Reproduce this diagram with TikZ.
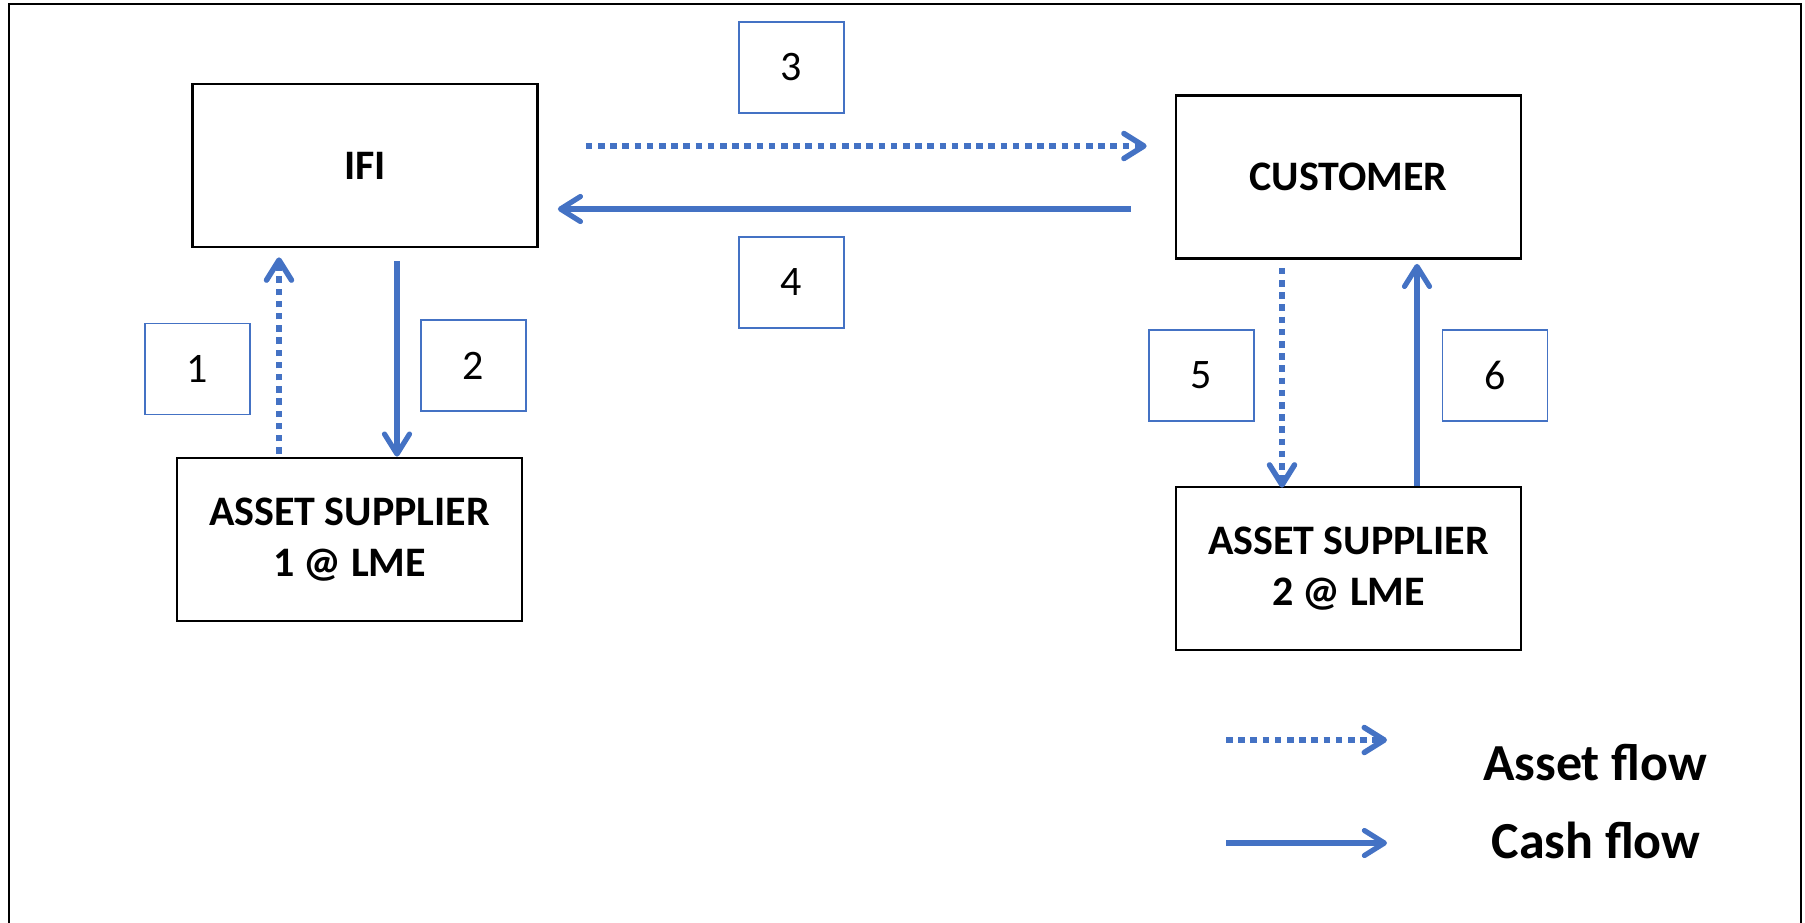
\documentclass[tikz,border=0pt]{standalone}
\usepackage{fontspec}
\setmainfont{Carlito}
\usetikzlibrary{arrows.meta}

\definecolor{flowblue}{HTML}{4472C4}

\begin{document}
\begin{tikzpicture}[x=1pt,y=-1pt,
  >={Straight Barb[length=20pt,width=25pt,line cap=round,line join=round]},
  party/.style={draw=black,line width=2.7pt,minimum width=345pt,minimum height=163pt,align=center,font=\fontsize{42}{51}\selectfont\bfseries},
  numbox/.style={draw=flowblue,line width=1.3pt,minimum width=105pt,minimum height=91pt,font=\fontsize{42}{50}\selectfont},
  asset/.style={flowblue,line width=5.5pt,->,dash pattern=on 6.5pt off 5.7pt},
  cash/.style={flowblue,line width=5.2pt,->},
  legend/.style={font=\fontsize{52}{60}\selectfont\bfseries}]
\useasboundingbox (0,0) rectangle (1805,922);
\draw[line width=2.7pt] (9,4) rectangle (1801,940);

\node[party] (ifi) at (365,165.5) {IFI};
\node[party] (cust) at (1348.5,177) {CUSTOMER};
\node[party] (as1) at (349.5,539.5) {ASSET SUPPLIER\\1 @ LME};
\node[party] (as2) at (1348.5,568.5) {ASSET SUPPLIER\\2 @ LME};

\foreach \n/\x/\y in {1/197.5/369, 2/473.5/365.5, 3/791.5/67.5, 4/791.5/282.5, 5/1201.5/375.5, 6/1495/375.5} {
 \node[numbox] (n\n) at (\x,\y) {\n};
}

\draw[asset] ([xshift=-70.5pt,yshift=3pt]as1.north) -- ([xshift=-86pt,yshift=-9pt]ifi.south);
\draw[cash] ([xshift=32pt,yshift=-13pt]ifi.south) -- ([xshift=47.5pt]as1.north);
\draw[asset] ([xshift=47pt,yshift=19.5pt]ifi.east) -- ([xshift=-28pt,yshift=31pt]cust.west);
\draw[cash] ([xshift=-44pt,yshift=-32pt]cust.west) -- ([xshift=19pt,yshift=-43.5pt]ifi.east);
\draw[asset] ([xshift=-66.5pt,yshift=-8pt]cust.south) -- ([xshift=-66.5pt,yshift=-2pt]as2.north);
\draw[cash] ([xshift=68.5pt]as2.north) -- ([xshift=68.5pt,yshift=-4pt]cust.south);

\node[legend] (leg1) at (1595,763) {Asset flow};
\node[legend] (leg2) at (1596,840) {Cash flow};
\coordinate (la1) at (1226,740);
\coordinate (la2) at (1226,843);
\draw[asset] (la1) -- ++(161,0);
\draw[cash] (la2) -- ++(161,0);
\end{tikzpicture}
\end{document}
